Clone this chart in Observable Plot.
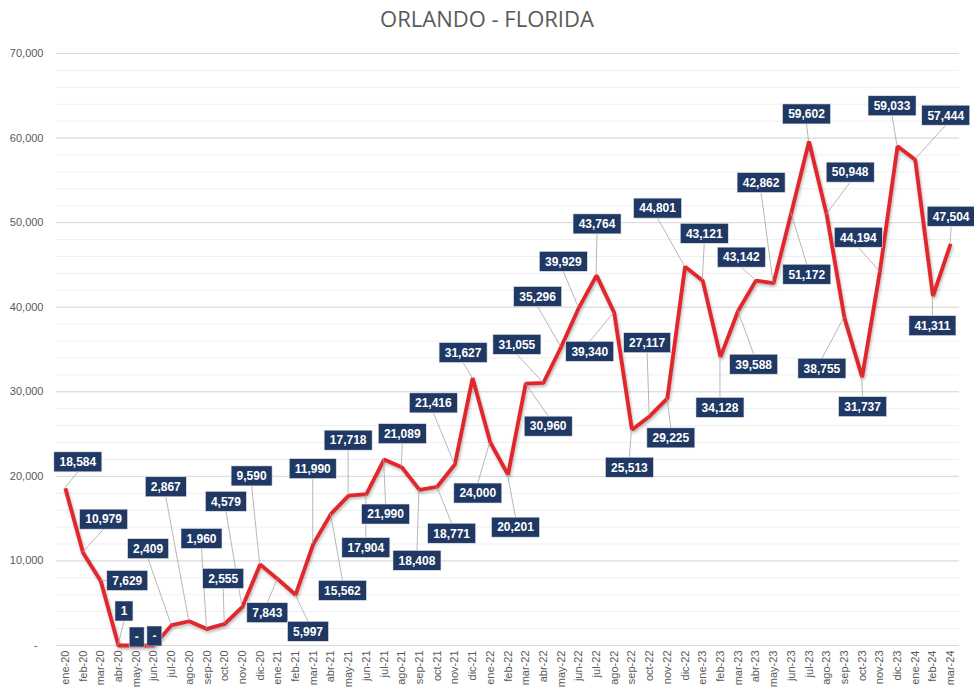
<!DOCTYPE html>
<html>
<head>
<meta charset="utf-8">
<script src="https://cdn.jsdelivr.net/npm/d3@7"></script>
<script src="https://cdn.jsdelivr.net/npm/@observablehq/plot@0.6"></script>
<style>
  html, body { margin: 0; padding: 0; background: #ffffff; }
  #title { height: 36px; line-height: 36px; text-align: center; font-family: "Open Sans", sans-serif; font-size: 22px; color: #595959; width: 974px; }
  #chart svg { display: block; overflow: visible; }
</style>
</head>
<body>
<div id="title">ORLANDO - FLORIDA</div>
<div id="chart"></div>
<script>
// ---- data ----
const months = [
  "ene-20","feb-20","mar-20","abr-20","may-20","jun-20","jul-20","ago-20","sep-20","oct-20","nov-20","dic-20",
  "ene-21","feb-21","mar-21","abr-21","may-21","jun-21","jul-21","ago-21","sep-21","oct-21","nov-21","dic-21",
  "ene-22","feb-22","mar-22","abr-22","may-22","jun-22","jul-22","ago-22","sep-22","oct-22","nov-22","dic-22",
  "ene-23","feb-23","mar-23","abr-23","may-23","jun-23","jul-23","ago-23","sep-23","oct-23","nov-23","dic-23",
  "ene-24","feb-24","mar-24"
];
const values = [
  18584, 10979, 7629, 1, 0, 0, 2409, 2867, 1960, 2555, 4579, 9590,
  7843, 5997, 11990, 15562, 17718, 17904, 21990, 21089, 18408, 18771, 21416, 31627,
  24000, 20201, 30960, 31055, 35296, 39929, 43764, 39340, 25513, 27117, 29225, 44801,
  43121, 34128, 39588, 43142, 42862, 51172, 59602, 50948, 38755, 31737, 44194, 59033,
  57444, 41311, 47504
];
const yTicks = [0, 10000, 20000, 30000, 40000, 50000, 60000, 70000];

// ---- layout: label box offsets from each point, in pixels [dx, dy] ----
const labelOffsets = [
  [13,-26],[21,-33],[27,0],[6,-34],[1,-8],[1,-9],[-23,-76],[-23,-134],[-5,-90],[-1,-45],[-16,-105],[-8,-88],
  [-10,34],[13,37],[0,-75],[12,77],[0,-55],[0,54],[2,55],[1,-33],[-2,71],[15,47],[-21,-61],[-9,-25],
  [-12,51],[8,53],[23,43],[-26,-38],[-23,-50],[-15,-46],[1,-51],[-24,39],[-2,38],[-2,-73],[4,40],[-27,-58],
  [2,-47],[0,51],[16,54],[-14,-23],[-12,-100],[16,62],[-2,-27],[24,-42],[-22,51],[1,30],[-21,-34],[-5,-40],
  [31,-44],[0,30],[1,-27]
];

const data = months.map((m, i) => ({month: m, value: values[i]}));
const minorTicks = d3.range(0, 70001, 2000);
const fmt = d3.format(",");
const labelText = v => v === 0 ? "-" : fmt(v);

const ctx = document.createElement("canvas").getContext("2d");
const labelFont = "bold 12px 'Liberation Sans', Arial, sans-serif";
ctx.font = labelFont;

function labelsMark(index, scales) {
  const g = d3.create("svg:g").attr("aria-label", "data labels");
  const leaders = g.append("g");
  const boxes = g.append("g");
  data.forEach((d, i) => {
    const px = scales.x(d.month), py = scales.y(d.value);
    const [dx, dy] = labelOffsets[i];
    const cx = px + dx, cy = py + dy;
    const t = labelText(d.value);
    const w = Math.round(ctx.measureText(t).width) + 11, h = 20;
    const left = cx - w / 2, right = cx + w / 2, top = cy - h / 2, bottom = cy + h / 2;
    let ax = null, ay = null;
    if (py > bottom) { ax = cx; ay = bottom; }
    else if (py < top) { ax = cx; ay = top; }
    else if (px < left) { ax = left; ay = cy; }
    else if (px > right) { ax = right; ay = cy; }
    if (ax !== null && Math.hypot(ax - px, ay - py) > 4) {
      leaders.append("line")
        .attr("x1", px).attr("y1", py).attr("x2", ax).attr("y2", ay)
        .attr("stroke", "#a6a6a6").attr("stroke-width", 0.8);
    }
    boxes.append("rect")
      .attr("x", left).attr("y", top).attr("width", w).attr("height", h)
      .attr("fill", "#1f3864").attr("stroke", "#e6e6e6").attr("stroke-width", 0.6);
    boxes.append("text")
      .attr("x", cx).attr("y", cy).attr("dy", "0.36em")
      .attr("text-anchor", "middle")
      .attr("fill", "#ffffff")
      .style("font", labelFont)
      .text(t);
  });
  return g.node();
}

const plot = Plot.plot({
  width: 974,
  height: 655,
  marginLeft: 56,
  marginRight: 15,
  marginTop: 17,
  marginBottom: 46,
  style: {fontFamily: "'Liberation Sans', Arial, sans-serif", fontSize: "11px", color: "#595959", background: "#ffffff"},
  x: {type: "point", domain: months, padding: 0.5, label: null},
  y: {domain: [0, 70000], label: null},
  marks: [
    Plot.ruleY(minorTicks, {stroke: "#efefef", strokeWidth: 1}),
    Plot.ruleY(yTicks, {stroke: "#d9d9d9", strokeWidth: 1}),
    Plot.axisY({ticks: yTicks, tickSize: 0, tickPadding: 13, fontSize: 11,
      tickFormat: v => v === 0 ? "-\u00a0\u00a0" : fmt(v), label: null}),
    Plot.axisX({tickRotate: -90, tickSize: 0, tickPadding: 5, fontSize: 11, label: null}),
    Plot.line(data, {x: "month", y: "value", stroke: "#e3262b", strokeWidth: 3.8,
      strokeLinejoin: "miter", strokeLinecap: "butt"}),
    labelsMark
  ]
});

document.getElementById("chart").appendChild(plot);
plot.querySelectorAll('g[aria-label="line"] path').forEach(p => {
  p.style.filter = "drop-shadow(1.5px 2px 1.5px rgba(0,0,0,0.28))";
});
</script>
</body>
</html>
